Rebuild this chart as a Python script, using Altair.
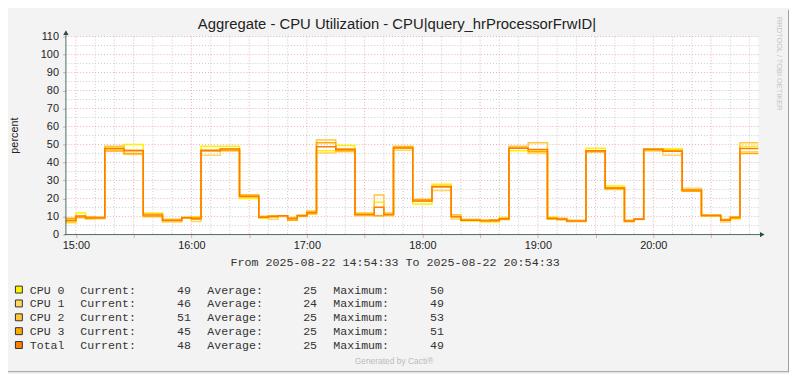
import altair as alt
import pandas as pd

# ---------------- data ----------------
SERIES = ["CPU 0", "CPU 1", "CPU 2", "CPU 3", "Total"]
COLORS = ["#FFF200", "#FFD660", "#FFC73B", "#FFAB00", "#FF7D00"]

# 5-minute samples starting at 14:50 (minutes relative to 15:00)
START_MIN = -10
STEP_MIN = 5

CPU0 = [6.5, 6.5, 12.0, 9.0, 9.0, 48.6, 48.6, 50.0, 50.0, 12.0, 12.0, 7.5, 7.5, 9.5, 9.8,
        49.0, 49.0, 49.0, 49.0, 20.0, 20.0, 9.0, 10.0, 10.5, 9.5, 10.5, 11.5, 46.5, 46.5,
        49.5, 49.5, 11.5, 11.5, 18.0, 11.0, 48.0, 48.0, 17.0, 17.0, 28.0, 28.0, 10.0, 7.5,
        7.5, 7.0, 7.0, 9.5, 46.5, 46.5, 47.0, 47.0, 9.7, 8.5, 7.5, 7.5, 48.0, 48.0, 27.0,
        27.0, 7.5, 8.5, 47.7, 47.7, 47.7, 47.7, 25.5, 25.5, 10.5, 10.5, 8.0, 8.6, 49.0,
        49.0, 49.0]
CPU1 = [8.5, 8.5, 9.5, 8.5, 8.8, 47.3, 47.3, 44.5, 44.5, 10.0, 10.0, 7.0, 7.0, 9.0, 7.2,
        44.0, 44.0, 47.0, 47.0, 21.5, 21.5, 10.0, 8.5, 10.0, 8.5, 11.0, 13.2, 45.3, 45.3,
        46.0, 46.0, 10.5, 10.5, 10.5, 10.5, 46.8, 46.8, 19.5, 19.5, 24.5, 24.5, 8.6, 8.5,
        8.5, 8.0, 7.5, 8.2, 48.5, 48.5, 45.0, 45.0, 8.5, 8.6, 7.5, 7.5, 46.0, 46.0, 25.0,
        25.0, 7.2, 8.6, 46.4, 46.4, 44.0, 44.0, 25.7, 25.7, 10.5, 10.5, 7.0, 9.7, 46.0,
        46.0, 46.0]
CPU2 = [7.0, 7.0, 10.0, 9.5, 9.6, 49.0, 49.0, 47.0, 47.0, 11.5, 11.5, 8.5, 8.5, 9.5, 8.5,
        46.5, 46.5, 47.5, 47.5, 21.0, 21.0, 9.5, 10.5, 10.5, 9.5, 10.0, 12.5, 52.5, 52.5,
        47.5, 47.5, 12.0, 12.0, 22.0, 12.0, 49.0, 49.0, 18.5, 18.5, 27.0, 27.0, 11.0, 8.0,
        8.0, 7.5, 8.0, 9.0, 49.0, 49.0, 51.0, 51.0, 9.0, 9.0, 8.0, 8.0, 46.5, 46.5, 26.0,
        26.0, 8.0, 8.4, 47.0, 47.0, 47.0, 47.0, 24.0, 24.0, 11.0, 11.0, 8.5, 9.5, 51.0,
        51.0, 51.0]
CPU3 = [9.0, 9.0, 9.5, 9.8, 9.6, 46.4, 46.4, 45.0, 45.0, 10.0, 10.0, 8.0, 8.0, 9.5, 9.5,
        47.0, 47.0, 46.5, 46.5, 22.0, 22.0, 10.0, 10.5, 10.5, 8.0, 10.5, 11.5, 51.0, 51.0,
        46.5, 46.5, 11.0, 11.0, 10.5, 11.0, 48.5, 48.5, 19.5, 19.5, 26.5, 26.5, 10.0, 8.0,
        8.0, 8.0, 8.2, 8.5, 48.0, 48.0, 46.0, 46.0, 8.6, 8.2, 7.2, 7.2, 46.0, 46.0, 25.5,
        25.5, 7.2, 8.6, 47.5, 47.5, 46.5, 46.5, 24.0, 24.0, 10.5, 10.5, 8.2, 9.7, 45.0,
        45.0, 45.0]
TOTAL = [7.8, 7.8, 10.3, 9.2, 9.2, 47.8, 47.8, 46.6, 46.6, 10.9, 10.9, 7.8, 7.8, 9.4, 8.8,
         46.6, 46.6, 47.5, 47.5, 21.1, 21.1, 9.6, 9.9, 10.4, 8.9, 10.5, 12.2, 48.8, 48.8,
         47.4, 47.4, 11.2, 11.2, 15.2, 11.1, 48.1, 48.1, 18.6, 18.6, 26.5, 26.5, 9.9, 8.0,
         8.0, 7.6, 7.7, 8.8, 48.0, 48.0, 47.3, 47.3, 9.0, 8.6, 7.6, 7.6, 46.6, 46.6, 25.9,
         25.9, 7.5, 8.5, 47.2, 47.2, 46.3, 46.3, 24.8, 24.8, 10.6, 10.6, 7.9, 9.4, 47.8,
         47.8, 47.8]

CURRENT = [49, 46, 51, 45, 48]
AVERAGE = [25, 24, 25, 25, 25]
MAXIMUM = [50, 49, 53, 51, 49]

X_TICK_LABELS = ["15:00", "16:00", "17:00", "18:00", "19:00", "20:00"]
TITLE = "Aggregate - CPU Utilization - CPU|query_hrProcessorFrwID|"
SUBTITLE = "From 2025-08-22 14:54:33 To 2025-08-22 20:54:33"

# ---------------- layout helpers ----------------
W, H = 700, 200
X_DOMAIN = [-5.45, 354.55]
Y_DOMAIN = [0, 110]


def t_at(px):
    return X_DOMAIN[0] + px / W * (X_DOMAIN[1] - X_DOMAIN[0])


def v_at(py):
    return Y_DOMAIN[1] - py / H * (Y_DOMAIN[1] - Y_DOMAIN[0])


xscale = alt.Scale(domain=X_DOMAIN, nice=False, zero=False)
yscale = alt.Scale(domain=Y_DOMAIN, nice=False, zero=False)

label_arr = "[" + ",".join("'" + s + "'" for s in X_TICK_LABELS) + "]"
XAXIS = alt.Axis(values=list(range(0, 331, 30)),
                 labelExpr=f"datum.value % 60 == 0 ? {label_arr}[floor(datum.value / 60)] : ''",
                 title=None, grid=False, domain=False, tickSize=3, tickColor="#E2A8A8",
                 labelFont="Liberation Sans", labelFontSize=11, labelColor="#222222",
                 labelPadding=2, labelOverlap=False, labelFlush=False)
YAXIS = alt.Axis(values=list(range(0, 111, 10)), title=None, grid=False, domain=False,
                 tickSize=3, tickColor="#E2A8A8", labelFont="Liberation Sans",
                 labelFontSize=11, labelColor="#222222", labelPadding=4,
                 labelFlush=False, labelOverlap=False)
X = alt.X("t:Q", scale=xscale, axis=XAXIS)
Y = alt.Y("v:Q", scale=yscale, axis=YAXIS)

layers = []

# grid
minor_v = [m for m in range(10, 355, 10) if m % 30 != 0]
major_v = list(range(0, 331, 30))
minor_h = list(range(5, 110, 10))
major_h = list(range(10, 111, 10))

MINOR_C = "#C9C9C9"
MAJOR_C = "#EAADAD"
layers.append(alt.Chart(pd.DataFrame({"t": minor_v})).mark_rule(
    color=MINOR_C, strokeDash=[1, 2], strokeWidth=1).encode(x=X))
layers.append(alt.Chart(pd.DataFrame({"v": minor_h})).mark_rule(
    color=MINOR_C, strokeDash=[1, 2], strokeWidth=1).encode(y=Y))
layers.append(alt.Chart(pd.DataFrame({"t": major_v})).mark_rule(
    color=MAJOR_C, strokeDash=[1, 2], strokeWidth=1).encode(x=X))
layers.append(alt.Chart(pd.DataFrame({"v": major_h})).mark_rule(
    color=MAJOR_C, strokeDash=[1, 2], strokeWidth=1).encode(y=Y))

# series lines
for name, color, vals in zip(SERIES, COLORS, [CPU0, CPU1, CPU2, CPU3, TOTAL]):
    df = pd.DataFrame({"t": [START_MIN + STEP_MIN * i for i in range(len(vals))],
                       "v": vals})
    layers.append(alt.Chart(df).mark_line(
        interpolate="step-after", strokeWidth=1.5, clip=True, color=color
    ).encode(x=X, y=Y))

one = pd.DataFrame({"a": [0]})
AXIS_COLOR = "#4A6A64"
# axis lines with arrows
layers.append(alt.Chart(one).mark_rule(color=AXIS_COLOR, strokeWidth=1).encode(
    x=alt.value(0.5), y=alt.value(-3), y2=alt.value(200)))
layers.append(alt.Chart(one).mark_rule(color=AXIS_COLOR, strokeWidth=1).encode(
    x=alt.value(-1), x2=alt.value(702), y=alt.value(200)))
layers.append(alt.Chart(one).mark_point(shape="triangle-up", filled=True, size=28,
                                        color="#2C4D43", opacity=1).encode(
    x=alt.value(0.5), y=alt.value(-4)))
layers.append(alt.Chart(one).mark_point(shape="triangle-right", filled=True, size=28,
                                        color="#2C4D43", opacity=1).encode(
    x=alt.value(704), y=alt.value(200)))

# texts
layers.append(alt.Chart(pd.DataFrame({"s": [TITLE]})).mark_text(
    font="Liberation Sans", fontSize=15, color="#222222", align="center",
    baseline="alphabetic").encode(text="s:N", x=alt.value(335), y=alt.value(-8)))
layers.append(alt.Chart(pd.DataFrame({"s": ["percent"]})).mark_text(
    font="Liberation Sans", fontSize=11, color="#222222", align="center",
    baseline="middle", angle=270).encode(text="s:N", x=alt.value(-51), y=alt.value(100)))
layers.append(alt.Chart(pd.DataFrame({"s": [SUBTITLE]})).mark_text(
    font="Liberation Mono", fontSize=11.8, color="#333333", align="center",
    baseline="middle").encode(text="s:N", x=alt.value(333), y=alt.value(228)))
layers.append(alt.Chart(pd.DataFrame({"s": ["Generated by Cacti®"]})).mark_text(
    font="Liberation Sans", fontSize=8.5, color="#BBBBBB", align="center",
    baseline="middle").encode(text="s:N", x=alt.value(332), y=alt.value(328)))
layers.append(alt.Chart(pd.DataFrame({"s": ["RRDTOOL / TOBI OETIKER"]})).mark_text(
    font="Liberation Sans", fontSize=7.5, color="#C4C4C4", align="center",
    baseline="middle", angle=90).encode(text="s:N", x=alt.value(721), y=alt.value(27.5)))

# legend
ROW0, ROWSTEP = 255.6, 14.0
left_rows, right_rows, sw_rows = [], [], []
for i, name in enumerate(SERIES):
    py = ROW0 + ROWSTEP * i
    v = v_at(py)
    left_rows += [
        {"s": name, "t": t_at(-36), "v": v},
        {"s": "Current:", "t": t_at(15), "v": v},
        {"s": "Average:", "t": t_at(143.3), "v": v},
        {"s": "Maximum:", "t": t_at(270.7), "v": v},
    ]
    right_rows += [
        {"s": str(CURRENT[i]), "t": t_at(126.8), "v": v},
        {"s": str(AVERAGE[i]), "t": t_at(254.2), "v": v},
        {"s": str(MAXIMUM[i]), "t": t_at(382.4), "v": v},
    ]
    sw_rows.append({"t": t_at(-47), "v": v, "c": COLORS[i]})

layers.append(alt.Chart(pd.DataFrame(left_rows)).mark_text(
    font="Liberation Mono", fontSize=11.7, color="#333333", align="left",
    baseline="middle").encode(text="s:N", x=X, y=Y))
layers.append(alt.Chart(pd.DataFrame(right_rows)).mark_text(
    font="Liberation Mono", fontSize=11.7, color="#333333", align="right",
    baseline="middle").encode(text="s:N", x=X, y=Y))
layers.append(alt.Chart(pd.DataFrame(sw_rows)).mark_square(
    size=49, filled=True, stroke="#333333", strokeWidth=1, opacity=1).encode(
    x=X, y=Y, color=alt.Color("c:N", scale=None)))

# frame (bottom / right edges)
layers.append(alt.Chart(one).mark_rule(color="#9E9E9E", strokeWidth=1).encode(
    x=alt.value(730.5), y=alt.value(-27), y2=alt.value(339)))
layers.append(alt.Chart(one).mark_rule(color="#9E9E9E", strokeWidth=1).encode(
    x=alt.value(-58), x2=alt.value(731), y=alt.value(338.5)))

chart = alt.layer(*layers).properties(
    width=W, height=H,
    autosize=alt.AutoSizeParams(type="none"),
    padding={"left": 58, "top": 27, "right": 31, "bottom": 139},
    background="#F3F3F3",
).configure_view(fill="white", stroke=None)

chart.save("out.html", embed_options={"renderer": "svg", "actions": False})
